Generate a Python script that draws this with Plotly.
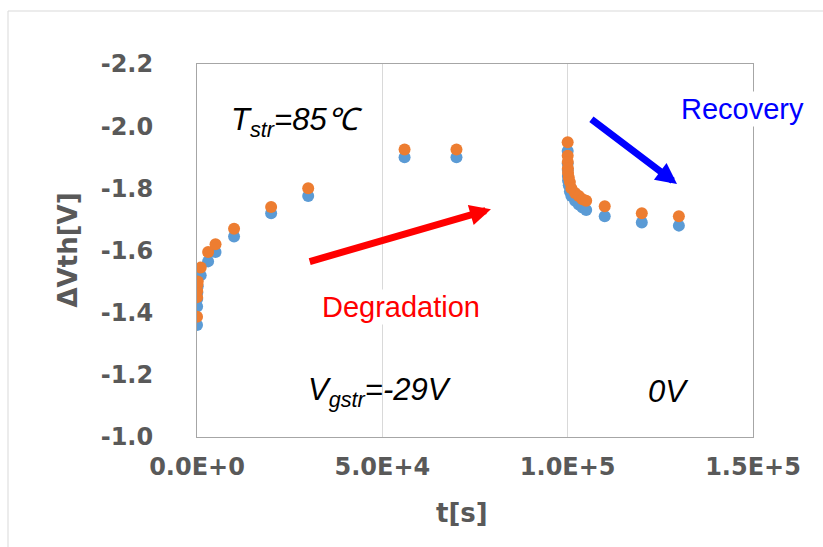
import plotly.graph_objects as go

# stress phase (Vgstr = -29V) then recovery phase (0V)
t_s = [10, 30, 60, 100, 200, 1000, 3000, 5000, 10000, 20000, 30000, 56000, 70000,
       100000, 100010, 100030, 100060, 100100, 100300, 100600, 101000, 102000,
       103000, 104000, 105000, 110000, 120000, 130000]
dvth_blue = [-1.36, -1.42, -1.445, -1.465, -1.485, -1.52, -1.565, -1.595, -1.645, -1.72, -1.775, -1.90, -1.90,
             -1.92, -1.88, -1.86, -1.84, -1.825, -1.81, -1.79, -1.775, -1.76,
             -1.748, -1.738, -1.73, -1.71, -1.69, -1.68]
dvth_orange = [-1.387, -1.45, -1.47, -1.49, -1.50, -1.545, -1.595, -1.62, -1.67, -1.74, -1.80, -1.925, -1.925,
               -1.948, -1.905, -1.885, -1.865, -1.85, -1.835, -1.82, -1.80, -1.785,
               -1.775, -1.765, -1.76, -1.742, -1.72, -1.71]

x_ticks = [0, 50000, 100000, 150000]
x_ticktext = ["0.0E+0", "5.0E+4", "1.0E+5", "1.5E+5"]
y_ticks = [-2.2, -2.0, -1.8, -1.6, -1.4, -1.2, -1.0]
y_ticktext = ["-2.2", "-2.0", "-1.8", "-1.6", "-1.4", "-1.2", "-1.0"]

fig = go.Figure()
fig.add_trace(go.Scatter(x=t_s, y=dvth_blue, mode="markers",
                         marker=dict(color="#5B9BD5", size=12), showlegend=False))
fig.add_trace(go.Scatter(x=t_s, y=dvth_orange, mode="markers",
                         marker=dict(color="#ED7D31", size=12), showlegend=False))

tickfont = dict(family="DejaVu Sans", size=24, color="#595959", weight="bold")
fig.update_xaxes(range=[0, 150000], tickvals=x_ticks, ticktext=x_ticktext,
                 showgrid=True, gridcolor="#d9d9d9", gridwidth=1,
                 showline=True, linecolor="#a6a6a6", mirror=True, zeroline=False,
                 tickfont=tickfont, ticklabelstandoff=8)
fig.update_yaxes(range=[-1.0, -2.2], tickvals=y_ticks, ticktext=y_ticktext,
                 showgrid=False, showline=True, linecolor="#a6a6a6", mirror=True,
                 zeroline=False, tickfont=tickfont, ticklabelstandoff=38)

ann = []
# axis titles
ann.append(dict(text="<b>t[s]</b>", xref="paper", yref="paper", x=(462-197)/556, y=(437-513)/373,
                xanchor="center", yanchor="middle",
                showarrow=False, font=dict(family="DejaVu Sans", size=26, color="#595959")))
ann.append(dict(text="<b>ΔVth[V]</b>", xref="paper", yref="paper", x=(67-197)/556, y=0.5, textangle=-90,
                xanchor="center", yanchor="middle",
                showarrow=False, font=dict(family="DejaVu Sans", size=26, color="#595959")))
# arrows
ann.append(dict(x=79300, y=-1.733, ax=30000, ay=-1.563, xref="x", yref="y", axref="x", ayref="y",
                text="", showarrow=True, arrowhead=2, arrowsize=0.6, arrowwidth=7, arrowcolor="#FF0000"))
ann.append(dict(x=129500, y=-1.814, ax=106000, ay=-2.026, xref="x", yref="y", axref="x", ayref="y",
                text="", showarrow=True, arrowhead=2, arrowsize=0.6, arrowwidth=7, arrowcolor="#0000FF"))
# labels
ann.append(dict(text="Degradation", x=55000, y=-1.418, xref="x", yref="y", showarrow=False,
                bgcolor="white", font=dict(family="Liberation Sans", size=29, color="#FF0000")))
ann.append(dict(text="Recovery", x=147300, y=-2.055, xref="x", yref="y", showarrow=False,
                bgcolor="white", font=dict(family="Liberation Sans", size=29, color="#0000FF")))
ann.append(dict(text="<i>T<sub>str</sub>=85℃</i>", x=27000, y=-2.013, xref="x", yref="y", showarrow=False,
                font=dict(family="Liberation Sans", size=31, color="black")))
ann.append(dict(text="<i>V<sub>gstr</sub>=-29V</i>", x=49400, y=-1.145, xref="x", yref="y", showarrow=False,
                font=dict(family="Liberation Sans", size=31, color="black")))
ann.append(dict(text="<i>0V</i>", x=127300, y=-1.145, xref="x", yref="y", showarrow=False,
                font=dict(family="Liberation Sans", size=31, color="black")))

fig.update_layout(width=823, height=547, margin=dict(l=197, r=70, t=64, b=110),
                  paper_bgcolor="white", plot_bgcolor="white", annotations=ann,
                  shapes=[dict(type="rect", xref="paper", yref="paper",
                               x0=(8-197)/556, x1=1.3, y0=-0.5, y1=(437-11)/373,
                               line=dict(color="#d9d9d9", width=1), layer="below")])
fig.write_html("out.html")
